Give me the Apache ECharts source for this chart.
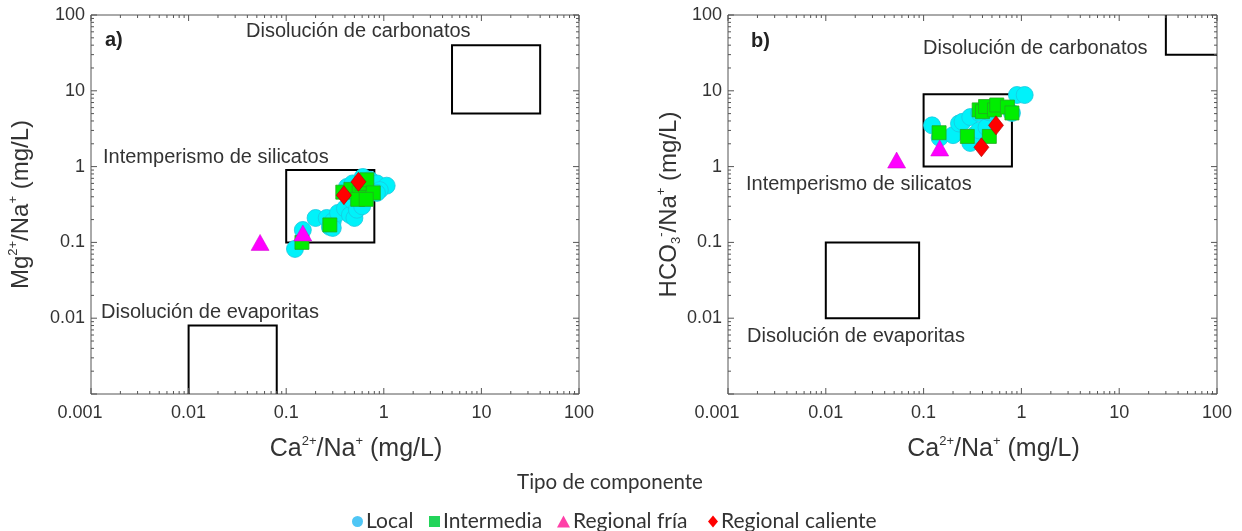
<!DOCTYPE html>
<html><head><meta charset="utf-8">
<script src="https://cdn.jsdelivr.net/npm/echarts@6/dist/echarts.min.js"></script>
<style>html,body{margin:0;padding:0;background:#fff}#c{width:1242px;height:531px}</style>
</head><body><div id="c"></div>
<script>
// ---- tick values ----
const majorTicks = [0.001, 0.01, 0.1, 1, 10, 100];
const minorFactors = [2, 3, 4, 5, 6, 7, 8, 9];

// ---- panel a: Ca/Na vs Mg/Na ----
const localA = [[0.123,0.082],[0.148,0.146],[0.2,0.21],[0.26,0.21],[0.28,0.16],[0.3,0.19],[0.3,0.155],[0.34,0.245],[0.4,0.28],[0.45,0.23],[0.5,0.21],[0.47,0.36],[0.53,0.27],[0.6,0.3],[0.42,0.54],[0.48,0.6],[0.61,0.73],[0.72,0.67],[0.85,0.6],[1.07,0.56],[0.91,0.49],[0.85,0.45]];
const intermediaA = [[0.145,0.1],[0.28,0.17],[0.38,0.46],[0.46,0.5],[0.56,0.45],[0.6,0.6],[0.67,0.67],[0.78,0.45],[0.54,0.37],[0.66,0.37]];
const friaA = [[0.054,0.1],[0.148,0.133]];
const calienteA = [[0.39,0.42],[0.55,0.63]];
// boxes [x1, x2, y1, y2]
const boxesA = [[0.1,0.8,0.1,0.9],[5,40,5,40],[0.01,0.08,0.0001,0.008]];

// ---- panel b: Ca/Na vs HCO3/Na ----
const localB = [[0.122,3.5],[0.146,2.4],[0.2,2.6],[0.23,3.7],[0.25,3.9],[0.3,4.5],[0.3,2.05],[0.33,2.6],[0.37,5.1],[0.37,3.0],[0.44,3.3],[0.47,5.2],[0.8,5.1],[0.9,8.8],[1.08,8.8]];
const intermediaB = [[0.144,2.8],[0.28,2.5],[0.47,2.5],[0.37,5.6],[0.4,5.3],[0.43,6.2],[0.53,5.6],[0.56,6.5],[0.72,6.1],[0.8,5.1]];
const friaB = [[0.053,1.22],[0.146,1.76]];
const calienteB = [[0.55,3.5],[0.39,1.8]];
const boxesB = [[0.1,0.8,1,9],[30,1000,30,1000],[0.01,0.09,0.01,0.1]];

const seriesNames = ['Local','Intermedia','Regional fría','Regional caliente'];
const legendColors = ['#4FC6F5','#22D45A','#FF40A8','#FF0000'];

const FONT = 'Liberation Sans';
const AX_MIN = majorTicks[0], AX_MAX = majorTicks[majorTicks.length-1];

function fmt(v){ return String(Number((+v).toPrecision(6))); }

function makeX(i){
  return {
    type:'log', logBase:10, min:AX_MIN, max:AX_MAX, gridIndex:i, splitNumber:5,
    axisLine:{show:false}, axisTick:{show:false}, splitLine:{show:false},
    axisLabel:{fontFamily:FONT, fontSize:18, color:'#333', margin:10,
      formatter:function(v){ const s=fmt(v); return Math.abs(v-AX_MIN)<1e-9 ? '{m|'+s+'}' : s; },
      rich:{m:{fontFamily:FONT, fontSize:18, color:'#333', padding:[0,22,0,0]}}},
    name:'{n|Ca}{s|2+}{n|/Na}{s|+}{n| (mg/L)}',
    nameLocation:'middle', nameGap:41,
    nameTextStyle:{padding:[0,0,0,42], rich:{
      n:{fontFamily:FONT, fontSize:25, color:'#333', lineHeight:29},
      s:{fontFamily:FONT, fontSize:13, color:'#333', verticalAlign:'top', lineHeight:14}}}
  };
}
function makeY(i, name, gap){
  return {
    type:'log', logBase:10, min:AX_MIN, max:AX_MAX, gridIndex:i, splitNumber:5,
    axisLine:{show:false}, axisTick:{show:false}, splitLine:{show:false},
    axisLabel:{fontFamily:FONT, fontSize:18, color:'#333', margin:6, showMinLabel:false, formatter:fmt},
    name:name, nameLocation:'middle', nameGap:gap,
    nameTextStyle:{rich:{
      n:{fontFamily:FONT, fontSize:24, color:'#333', lineHeight:28},
      s:{fontFamily:FONT, fontSize:13, color:'#333', verticalAlign:'top', lineHeight:14},
      b:{fontFamily:FONT, fontSize:13, color:'#333', verticalAlign:'bottom', lineHeight:14}}}
  };
}

function tickSeries(i){
  return {type:'custom', xAxisIndex:i, yAxisIndex:i, data:[[1,1]], silent:true, clip:false, z:6,
    renderItem:function(params, api){
      const ch=[];
      const st={stroke:'#555', lineWidth:1};
      const add=(x1,y1,x2,y2)=>ch.push({type:'line', shape:{x1:x1,y1:y1,x2:x2,y2:y2}, style:st});
      const vals=[];
      majorTicks.forEach(t=>vals.push([t,6]));
      majorTicks.slice(0,-1).forEach(t=>minorFactors.forEach(f=>vals.push([t*f,3])));
      vals.forEach(([v,len])=>{
        const b=api.coord([v,AX_MIN]), t=api.coord([v,AX_MAX]);
        add(b[0],b[1],b[0],b[1]-len); add(t[0],t[1],t[0],t[1]+len);
        const l=api.coord([AX_MIN,v]), r=api.coord([AX_MAX,v]);
        add(l[0],l[1],l[0]+len,l[1]); add(r[0],r[1],r[0]-len,r[1]);
      });
      return {type:'group', children:ch};
    }};
}
function boxSeries(i, boxes){
  return {type:'custom', xAxisIndex:i, yAxisIndex:i, data:boxes, silent:true, clip:true, z:1,
    encode:{x:[0,1], y:[2,3]},
    renderItem:function(params, api){
      const p1=api.coord([api.value(0), api.value(2)]);
      const p2=api.coord([api.value(1), api.value(3)]);
      return {type:'rect', shape:{x:p1[0], y:p2[1], width:p2[0]-p1[0], height:p1[1]-p2[1]},
        style:{fill:'none', stroke:'#000', lineWidth:2}};
    }};
}
function scatterSet(i, local, inter, fria, cal){
  return [
    {name:seriesNames[0], type:'scatter', xAxisIndex:i, yAxisIndex:i, data:local, symbol:'circle', symbolSize:17, z:2,
      itemStyle:{color:'#00F2FA', borderColor:'#19C8E0', borderWidth:0.8, opacity:1}},
    {name:seriesNames[1], type:'scatter', xAxisIndex:i, yAxisIndex:i, data:inter, symbol:'rect', symbolSize:14, z:3,
      itemStyle:{color:'#00EE00', borderColor:'#22AA22', borderWidth:0.8, opacity:1}},
    {name:seriesNames[2], type:'scatter', xAxisIndex:i, yAxisIndex:i, data:fria, symbol:'triangle', symbolSize:[18,16], z:4,
      itemStyle:{color:'#FF00FF', borderColor:'#CC00CC', borderWidth:0.5, opacity:1}},
    {name:seriesNames[3], type:'scatter', xAxisIndex:i, yAxisIndex:i, data:cal, symbol:'diamond', symbolSize:[15,19], z:5,
      itemStyle:{color:'#FF0000', borderColor:'#AA0000', borderWidth:0.6, opacity:1}}
  ];
}

const txt=(x,y,text,opt)=>Object.assign({type:'text', x:x, y:y, z:100,
  style:Object.assign({text:text, fontFamily:FONT, fontSize:20, fill:'#333', verticalAlign:'middle'}, opt||{})});

const legendLefts = [347, 424, 552, 703];
const legendIcons = ['circle','rect','triangle','diamond'];
const legendSizes = [[11,11],[11,11],[13,12],[10,12]];
const legends = seriesNames.map((n,k)=>({
  left:legendLefts[k], top:506, itemWidth:legendSizes[k][0], itemHeight:legendSizes[k][1], selectedMode:false,
  textStyle:{fontFamily:'Lato', fontSize:21, color:'#333', padding:[0,0,0,-2]},
  data:[{name:n, icon:legendIcons[k], itemStyle:{color:legendColors[k], borderWidth:0}}]
}));

const option = {
  animation:false,
  backgroundColor:'#fff',
  grid:[
    {left:91, top:15, width:488, height:379, show:true, borderColor:'#555', borderWidth:1, backgroundColor:'#fff'},
    {left:728, top:15, width:489, height:379, show:true, borderColor:'#555', borderWidth:1, backgroundColor:'#fff'}
  ],
  xAxis:[makeX(0), makeX(1)],
  yAxis:[
    makeY(0,'{n|Mg}{s|2+}{n|/Na}{s|+}{n| (mg/L)}',56),
    makeY(1,'{n|HCO}{b|3}{s|-}{n|/Na}{s|+}{n| (mg/L)}',33)
  ],
  legend:legends,
  graphic:[
    txt(105,40,'a)',{fontWeight:'bold', fill:'#222'}),
    txt(246,31,'Disolución de carbonatos'),
    txt(103,157,'Intemperismo de silicatos'),
    txt(101,312,'Disolución de evaporitas'),
    txt(751,41,'b)',{fontWeight:'bold', fill:'#222'}),
    txt(923,48,'Disolución de carbonatos'),
    txt(746,184,'Intemperismo de silicatos'),
    txt(747,336,'Disolución de evaporitas'),
    txt(610,482,'Tipo de componente',{fontFamily:'Lato', fontSize:20.5, align:'center'})
  ],
  series:[].concat(
    boxSeries(0, boxesA), boxSeries(1, boxesB),
    scatterSet(0, localA, intermediaA, friaA, calienteA),
    scatterSet(1, localB, intermediaB, friaB, calienteB),
    tickSeries(0), tickSeries(1)
  )
};
const chart = echarts.init(document.getElementById('c'), null, {renderer:'canvas'});
chart.setOption(option);
</script></body></html>
